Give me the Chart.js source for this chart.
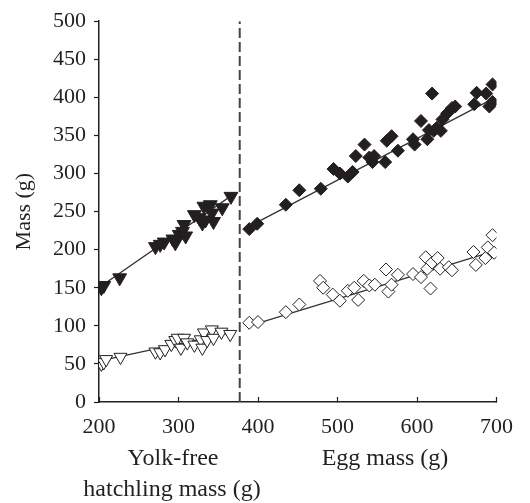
<!DOCTYPE html>
<html>
<head>
<meta charset="utf-8">
<script src="https://cdn.jsdelivr.net/npm/chart.js@4.4.1/dist/chart.umd.min.js"></script>
<style>
    html, body { margin: 0; padding: 0; background: #fff; }
    #wrap { width: 530px; height: 503px; }
</style>
</head>
<body>
<div id="wrap"><canvas id="massChart"></canvas></div>
<script>
// hatchling mass (left of the divider), [x, y]
const hatchlingFilled = [
    [203, 150], [206, 153], [226, 163], [271, 204], [277, 207], [282, 210], [293, 214],
    [296, 209], [301, 220], [305, 224], [309, 218], [307, 233], [320, 246], [326, 242],
    [330, 235], [334, 239], [332, 257], [340, 259], [344, 237], [342, 248], [355, 255],
    [366, 270]
];
const hatchlingOpen = [
    [203, 50], [206, 52], [209, 56], [227, 59], [271, 66], [277, 65], [283, 69], [291, 76],
    [296, 81], [299, 84], [303, 71], [307, 84], [311, 78], [320, 75], [328, 82], [330, 71],
    [332, 91], [336, 81], [342, 95], [344, 84], [354, 92], [365, 89]
];
// egg mass (right of the divider)
const eggFilled = [
    [389, 227], [399, 234], [435, 259], [452, 278], [479, 280], [495, 306], [503, 300],
    [513, 296], [519, 302], [523, 323], [534, 338], [540, 321], [544, 315], [546, 323],
    [560, 315], [562, 343], [568, 349], [576, 330], [595, 345], [597, 338], [605, 369],
    [613, 345], [615, 357], [619, 405], [621, 356], [625, 360], [630, 356], [632, 371],
    [638, 379], [644, 386], [648, 388], [672, 391], [675, 406], [687, 405], [691, 388],
    [695, 394], [695, 417]
];
const eggOpen = [
    [389, 104], [400, 105], [435, 118], [452, 128], [478, 159], [482, 150], [494, 141],
    [503, 133], [513, 146], [521, 150], [526, 134], [533, 159], [540, 153], [547, 154],
    [561, 174], [564, 145], [568, 154], [576, 167], [595, 168], [605, 164], [611, 190],
    [613, 175], [617, 149], [619, 183], [626, 189], [629, 175], [640, 177], [644, 173],
    [671, 197], [674, 180], [686, 189], [689, 203], [695, 219], [697, 196]
];
// fitted lines, end points
const hatchlingFilledFit = [[201, 151], [368, 272]];
const hatchlingOpenFit = [[201, 54], [366, 91]];
const eggFilledFit = [[386, 229], [697, 399]];
const eggOpenFit = [[386, 99], [697, 198]];
const dividerX = 377;

const xTicks = [200, 300, 400, 500, 600, 700];
const yTicks = [0, 50, 100, 150, 200, 250, 300, 350, 400, 450, 500];

const ink = '#231f20';
const serif = '"Liberation Serif", "Times New Roman", serif';

function toPoints(arr) {
    return arr.map(p => ({ x: p[0], y: p[1] }));
}

function markers(data, style, filled, radius, rotation) {
    return {
        type: 'scatter',
        data: toPoints(data),
        pointStyle: style,
        pointRadius: radius,
        pointRotation: rotation,
        pointBackgroundColor: filled ? ink : '#fff',
        pointBorderColor: ink,
        pointBorderWidth: 1,
        showLine: false,
        order: 0
    };
}

function fitLine(data) {
    return {
        type: 'line',
        data: toPoints(data),
        borderColor: '#333',
        borderWidth: 1.3,
        pointRadius: 0,
        fill: false,
        order: 1
    };
}

// axis titles under the x axis and beside the y axis
const axisTexts = {
    id: 'axisTexts',
    afterDraw(chart) {
        const ctx = chart.ctx;
        const area = chart.chartArea;
        ctx.save();
        ctx.fillStyle = ink;
        ctx.textAlign = 'center';
        ctx.textBaseline = 'alphabetic';
        ctx.font = '24px ' + serif;
        ctx.fillText('Yolk-free', 173, 465);
        ctx.fillText('hatchling mass (g)', 172, 496);
        ctx.fillText('Egg mass (g)', 385, 465);
        ctx.font = '22px ' + serif;
        ctx.translate(30, (area.top + area.bottom) / 2);
        ctx.rotate(-Math.PI / 2);
        ctx.fillText('Mass (g)', 0, 0);
        ctx.restore();
    }
};

const ctx = document.getElementById('massChart').getContext('2d');
new Chart(ctx, {
    data: {
        datasets: [
            markers(hatchlingFilled, 'triangle', true, 8, 180),
            markers(hatchlingOpen, 'triangle', false, 7.5, 180),
            markers(eggFilled, 'rectRot', true, 6.5, 0),
            markers(eggOpen, 'rectRot', false, 6.5, 0),
            fitLine(hatchlingFilledFit),
            fitLine(hatchlingOpenFit),
            fitLine(eggFilledFit),
            fitLine(eggOpenFit),
            {
                type: 'line',
                data: [{ x: dividerX, y: 0 }, { x: dividerX, y: 500 }],
                borderColor: '#444',
                borderWidth: 2,
                borderDash: [10, 4],
                pointRadius: 0,
                order: 2
            }
        ]
    },
    options: {
        responsive: true,
        maintainAspectRatio: false,
        animation: false,
        layout: { padding: { top: 15, right: 22, left: 0, bottom: 0 } },
        plugins: {
            legend: { display: false },
            tooltip: { enabled: false }
        },
        scales: {
            x: {
                type: 'linear',
                min: 200,
                max: 700,
                afterBuildTicks: axis => { axis.ticks = xTicks.map(v => ({ value: v })); },
                afterFit: axis => { axis.height = 101; },
                grid: { drawOnChartArea: false, drawTicks: true, tickLength: -5, tickColor: ink, tickWidth: 1.2 },
                border: { display: true, color: ink, width: 1.5 },
                ticks: { color: ink, font: { family: serif, size: 22 }, padding: 17, maxRotation: 0 }
            },
            y: {
                type: 'linear',
                min: 0,
                max: 500,
                afterBuildTicks: axis => { axis.ticks = yTicks.map(v => ({ value: v })); },
                afterFit: axis => { axis.width = 99; },
                grid: { drawOnChartArea: false, drawTicks: true, tickLength: 5, tickColor: ink, tickWidth: 1.2 },
                border: { display: true, color: ink, width: 1.5 },
                ticks: { color: ink, font: { family: serif, size: 22 }, padding: 8 }
            }
        }
    },
    plugins: [axisTexts]
});
</script>
</body>
</html>
